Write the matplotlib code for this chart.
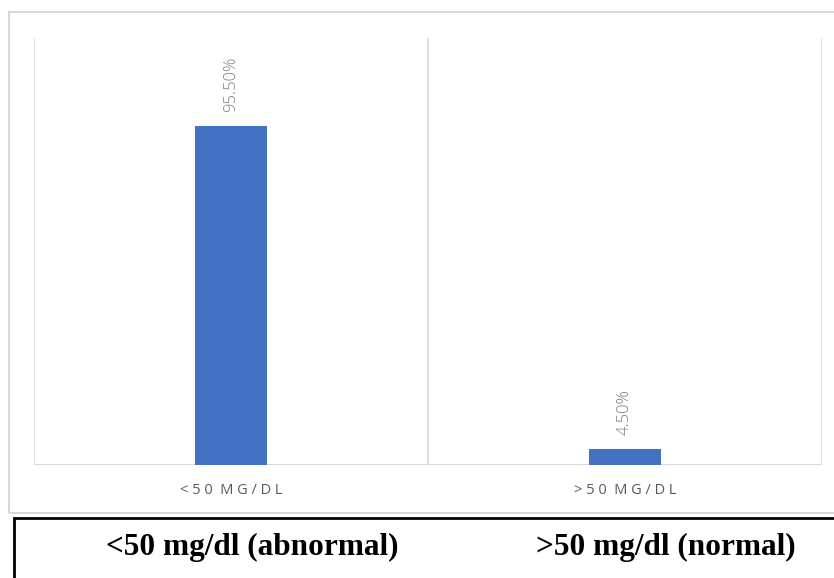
import matplotlib
matplotlib.use("Agg")
import matplotlib.pyplot as plt
from matplotlib.patches import Rectangle

categories = ["<50 MG/DL", ">50 MG/DL"]
values = [95.5, 4.5]
value_labels = ["95.50%", "4.50%"]
box_labels = ["<50 mg/dl (abnormal)", ">50 mg/dl (normal)"]

W, H = 834, 578
fig = plt.figure(figsize=(W / 100, H / 100), dpi=100)


def fx(px):
    return px / W


def fy(py):
    return 1 - py / H


# outer chart frame (light gray)
fig.patches.append(Rectangle((fx(9), fy(513)), fx(840) - fx(9), fy(12) - fy(513),
                             transform=fig.transFigure, fill=False,
                             edgecolor="#d9d9d9", linewidth=1.5))
# bottom text box (black)
fig.patches.append(Rectangle((fx(14), fy(590)), fx(840) - fx(14), fy(518) - fy(590),
                             transform=fig.transFigure, fill=False,
                             edgecolor="black", linewidth=2))

ax = fig.add_axes([fx(34), fy(465), fx(822) - fx(34), fy(38) - fy(465)])
x = range(len(categories))
bars = ax.bar(x, values, width=0.183, color="#4472c4", zorder=3)
ax.set_xlim(-0.5, 1.5)
ax.set_ylim(0, 120.3)

for i, (v, lab) in enumerate(zip(values, value_labels)):
    ax.annotate(lab, (i, v), xytext=(0, 10), textcoords="offset points",
                rotation=90, ha="center", va="bottom", color="#7f7f7f",
                fontsize=12, family="Open Sans", fontweight="light")

for xv in [-0.5, 0.5, 1.5]:
    ax.axvline(xv, color="#d9d9d9", linewidth=1.2, zorder=1)
ax.axhline(0, color="#d9d9d9", linewidth=1.5, zorder=2)

for s in ax.spines.values():
    s.set_visible(False)
ax.set_yticks([])
ax.set_xticks(list(x))


def spaced(t):
    return "  ".join(" ".join(w) for w in t.split(" "))


ax.set_xticklabels([spaced(c) for c in categories], color="#595959",
                   fontsize=10.5, family="Open Sans")
ax.tick_params(axis="x", length=0, pad=13)

centers = [252, 666]
for cx, lab in zip(centers, box_labels):
    fig.text(fx(cx), fy(547), lab, ha="center", va="center",
             family="Liberation Serif", fontweight="bold", fontsize=22.5)

fig.savefig("out.png", dpi=100)
